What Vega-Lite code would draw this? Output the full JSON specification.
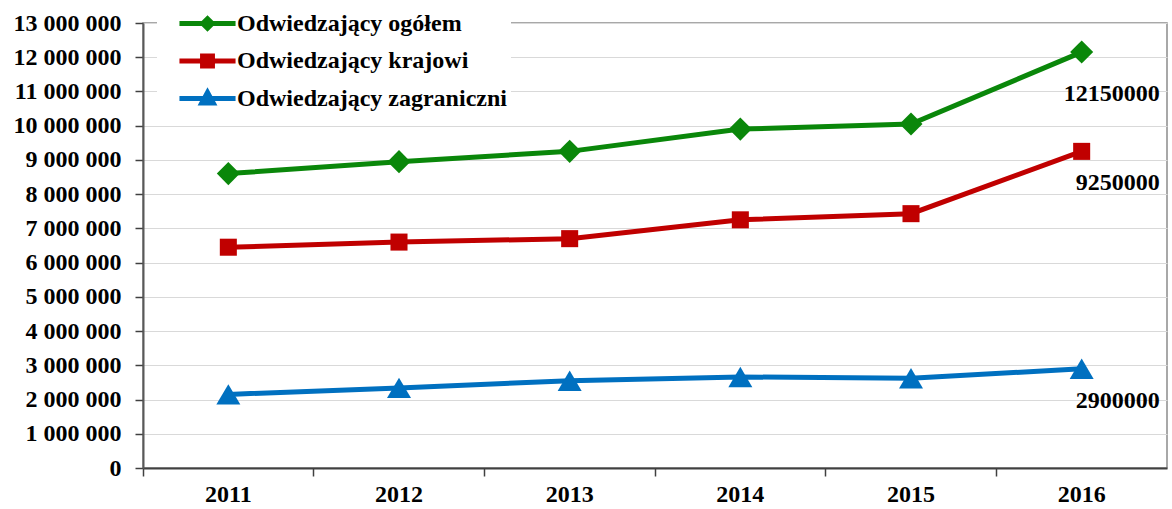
{
  "$schema": "https://vega.github.io/schema/vega-lite/v6.json",
  "autosize": "none",
  "width": 1024,
  "height": 445,
  "padding": {"left": 143, "top": 23, "right": 5, "bottom": 41},
  "background": "white",
  "config": {
    "view": {"stroke": "#8C8C8C", "strokeWidth": 1.5},
    "font": "Liberation Serif"
  },
  "data": {
    "values": [
      {"year": "2011", "series": "Odwiedzający ogółem", "value": 8600000},
      {"year": "2012", "series": "Odwiedzający ogółem", "value": 8950000},
      {"year": "2013", "series": "Odwiedzający ogółem", "value": 9250000},
      {"year": "2014", "series": "Odwiedzający ogółem", "value": 9900000},
      {"year": "2015", "series": "Odwiedzający ogółem", "value": 10050000},
      {"year": "2016", "series": "Odwiedzający ogółem", "value": 12150000},
      {"year": "2011", "series": "Odwiedzający krajowi", "value": 6450000},
      {"year": "2012", "series": "Odwiedzający krajowi", "value": 6600000},
      {"year": "2013", "series": "Odwiedzający krajowi", "value": 6700000},
      {"year": "2014", "series": "Odwiedzający krajowi", "value": 7250000},
      {"year": "2015", "series": "Odwiedzający krajowi", "value": 7430000},
      {"year": "2016", "series": "Odwiedzający krajowi", "value": 9250000},
      {"year": "2011", "series": "Odwiedzający zagraniczni", "value": 2150000},
      {"year": "2012", "series": "Odwiedzający zagraniczni", "value": 2340000},
      {"year": "2013", "series": "Odwiedzający zagraniczni", "value": 2550000},
      {"year": "2014", "series": "Odwiedzający zagraniczni", "value": 2660000},
      {"year": "2015", "series": "Odwiedzający zagraniczni", "value": 2620000},
      {"year": "2016", "series": "Odwiedzający zagraniczni", "value": 2900000}
    ]
  },
  "encoding": {
    "x": {
      "field": "year", "type": "ordinal", "title": null,
      "scale": {"type": "band", "paddingInner": 0, "paddingOuter": 0},
      "axis": {
        "bandPosition": 0, "labelAngle": 0,
        "labelFont": "Liberation Serif", "labelFontWeight": "bold", "labelFontSize": 24, "labelColor": "black",
        "labelPadding": 6, "tickSize": 8, "tickColor": "#404040", "tickWidth": 1.5,
        "domainColor": "#404040", "domainWidth": 2, "grid": false
      }
    },
    "y": {
      "field": "value", "type": "quantitative", "title": null,
      "scale": {"domain": [0, 13000000], "nice": false},
      "axis": {
        "values": [0, 1000000, 2000000, 3000000, 4000000, 5000000, 6000000, 7000000, 8000000, 9000000, 10000000, 11000000, 12000000, 13000000],
        "labelExpr": "replace(format(datum.value, ',d'), /,/g, ' ')",
        "labelFont": "Liberation Serif", "labelFontWeight": "bold", "labelFontSize": 24, "labelColor": "black",
        "labelPadding": 14, "tickSize": 8, "tickColor": "#404040", "tickWidth": 1.5,
        "domainColor": "#595959", "domainWidth": 2,
        "grid": true, "gridColor": "#D9D9D9", "gridWidth": 1.2
      }
    },
    "color": {
      "field": "series", "type": "nominal",
      "scale": {
        "domain": ["Odwiedzający ogółem", "Odwiedzający krajowi", "Odwiedzający zagraniczni"],
        "range": ["#0A870A", "#C00000", "#0070C0"]
      },
      "legend": {
        "title": null, "orient": "none", "legendX": 14, "legendY": -21,
        "fillColor": "white", "padding": 4, "symbolOffset": 29, "labelOffset": 12,
        "labelFont": "Liberation Serif", "labelFontWeight": "bold", "labelFontSize": 24, "labelColor": "black",
        "symbolSize": 900, "symbolStrokeWidth": 5, "rowPadding": 4.5, "labelLimit": 400,
        "encode": {
          "symbols": {
            "update": {
              "shape": {"signal": "datum.value === 'Odwiedzający ogółem' ? 'M-1.87,0H1.87M0,-0.32L0.32,0L0,0.32L-0.32,0Z' : datum.value === 'Odwiedzający krajowi' ? 'M-1.87,0H1.87M-0.33,-0.33H0.33V0.33H-0.33Z' : 'M-1.87,0H1.87M0,-0.4L0.38,0.3H-0.38Z'"},
              "strokeWidth": {"value": 5},
              "size": {"value": 900},
              "opacity": {"value": 1}
            }
          }
        }
      }
    }
  },
  "layer": [
    {
      "mark": {"type": "line", "strokeWidth": 5}
    },
    {
      "mark": {"type": "point", "filled": true, "opacity": 1, "size": 576},
      "encoding": {
        "shape": {
          "field": "series", "type": "nominal", "legend": null,
          "scale": {"range": ["M-0.71,-0.71H0.71V0.71H-0.71Z", "M0,-0.96L0.96,0L0,0.96L-0.96,0Z", "M0,-0.85L1,0.85L-1,0.85Z"]}
        }
      }
    },
    {
      "transform": [{"filter": "datum.year === '2016' && datum.series === 'Odwiedzający ogółem'"}],
      "mark": {"type": "text", "align": "right", "baseline": "middle", "dx": 78, "dy": 42, "font": "Liberation Serif", "fontWeight": "bold", "fontSize": 24, "color": "black"},
      "encoding": {
        "text": {"field": "value", "type": "quantitative", "format": "d"},
        "color": {"value": "black"}
      }
    },
    {
      "transform": [{"filter": "datum.year === '2016' && datum.series !== 'Odwiedzający ogółem'"}],
      "mark": {"type": "text", "align": "right", "baseline": "middle", "dx": 78, "dy": 32, "font": "Liberation Serif", "fontWeight": "bold", "fontSize": 24, "color": "black"},
      "encoding": {
        "text": {"field": "value", "type": "quantitative", "format": "d"},
        "color": {"value": "black"}
      }
    }
  ]
}
